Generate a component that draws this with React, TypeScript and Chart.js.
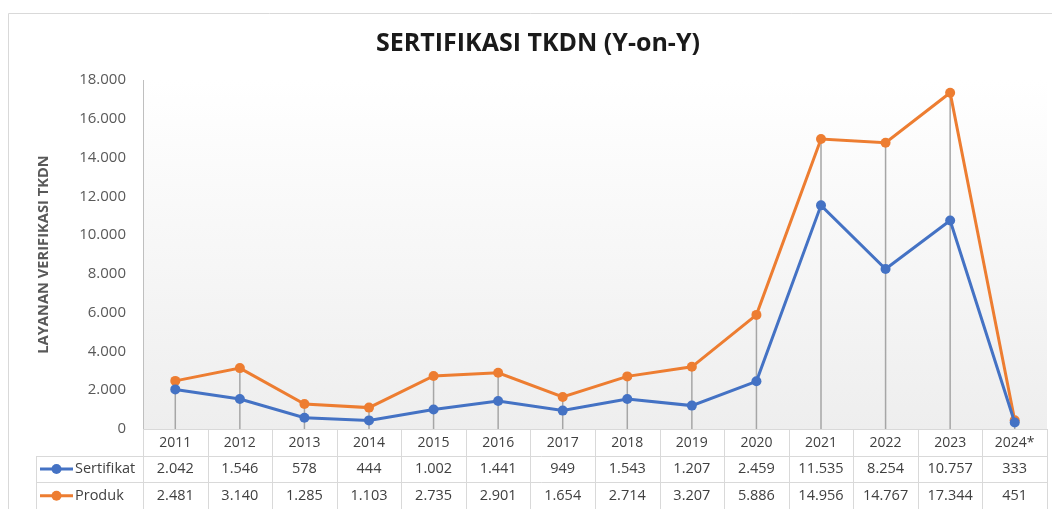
import { useEffect, useRef } from 'react';
import { Chart, registerables } from 'chart.js';

Chart.register(...registerables);

const years = ['2011', '2012', '2013', '2014', '2015', '2016', '2017', '2018', '2019', '2020', '2021', '2022', '2023', '2024*'];
const sertifikat = [2042, 1546, 578, 444, 1002, 1441, 949, 1543, 1207, 2459, 11535, 8254, 10757, 333];
const produk = [2481, 3140, 1285, 1103, 2735, 2901, 1654, 2714, 3207, 5886, 14956, 14767, 17344, 451];
const seriesNames = ['Sertifikat', 'Produk'];
const yMax = 18000;
const yStep = 2000;

const BLUE = '#4472C4';
const ORANGE = '#ED7D31';
const FONT = '"Open Sans", sans-serif';

const fmt = (n: number) => String(n).replace(/\B(?=(\d{3})+(?!\d))/g, '.');

const tablePlugin = {
  id: 'excelTable',
  beforeDraw(chart: any) {
    const { ctx, chartArea } = chart;
    ctx.save();
    ctx.strokeStyle = '#d9d9d9';
    ctx.lineWidth = 1;
    ctx.beginPath();
    ctx.moveTo(8.5, chart.height);
    ctx.lineTo(8.5, 13.5);
    ctx.lineTo(chart.width, 13.5);
    ctx.stroke();
    const g = ctx.createLinearGradient(0, chartArea.top, 0, chartArea.bottom);
    g.addColorStop(0, '#ffffff');
    g.addColorStop(1, '#eeeeee');
    ctx.fillStyle = g;
    ctx.fillRect(chartArea.left, chartArea.top, chartArea.right - chartArea.left, chartArea.bottom - chartArea.top);
    ctx.restore();
  },
  beforeDatasetsDraw(chart: any) {
    const { ctx, scales } = chart;
    const x = scales.x;
    const y = scales.y;
    ctx.save();
    ctx.strokeStyle = '#a6a6a6';
    ctx.lineWidth = 1.5;
    years.forEach((_, i) => {
      const px = x.getPixelForValue(i);
      const top = y.getPixelForValue(Math.max(sertifikat[i], produk[i]));
      ctx.beginPath();
      ctx.moveTo(px, top);
      ctx.lineTo(px, y.getPixelForValue(0));
      ctx.stroke();
    });
    ctx.restore();
  },
  afterDraw(chart: any) {
    const { ctx, scales, chartArea } = chart;
    const x = scales.x;
    const base = chartArea.bottom;
    const rowH = 26.7;
    const legendLeft = 36.5;
    const bottom = chart.height;
    ctx.save();
    ctx.strokeStyle = '#d9d9d9';
    ctx.lineWidth = 1;
    ctx.beginPath();
    ctx.moveTo(chartArea.left, base + 0.5);
    ctx.lineTo(chartArea.right, base + 0.5);
    for (let r = 1; r <= 2; r++) {
      const yy = Math.round(base + r * rowH) + 0.5;
      ctx.moveTo(legendLeft, yy);
      ctx.lineTo(chartArea.right, yy);
    }
    ctx.stroke();
    ctx.beginPath();
    const n = years.length;
    const step = (chartArea.right - chartArea.left) / n;
    for (let k = 0; k <= n; k++) {
      const xx = Math.round(chartArea.left + k * step) + 0.5;
      ctx.moveTo(xx, base);
      ctx.lineTo(xx, bottom);
    }
    ctx.moveTo(legendLeft, Math.round(base + rowH));
    ctx.lineTo(legendLeft, bottom);
    ctx.stroke();

    const rows = [sertifikat, produk];
    const colors = [BLUE, ORANGE];
    ctx.font = `14.5px ${FONT}`;
    ctx.textBaseline = 'middle';
    rows.forEach((vals, r) => {
      const cy = base + rowH * (r + 1.5);
      ctx.strokeStyle = colors[r];
      ctx.fillStyle = colors[r];
      ctx.lineWidth = 3;
      ctx.beginPath();
      ctx.moveTo(40, cy);
      ctx.lineTo(73, cy);
      ctx.stroke();
      ctx.beginPath();
      ctx.arc(56.5, cy, 5, 0, Math.PI * 2);
      ctx.fill();
      ctx.fillStyle = '#404040';
      ctx.textAlign = 'left';
      ctx.fillText(seriesNames[r], 75, cy);
      ctx.textAlign = 'center';
      vals.forEach((v, i) => {
        ctx.fillText(fmt(v), x.getPixelForValue(i), cy);
      });
    });
    ctx.restore();
  },
};

export default function App() {
  const ref = useRef<HTMLCanvasElement | null>(null);
  useEffect(() => {
    if (!ref.current) return;
    const chart = new Chart(ref.current, {
      type: 'line',
      data: {
        labels: years,
        datasets: [
          {
            label: seriesNames[0],
            data: sertifikat,
            borderColor: BLUE,
            backgroundColor: BLUE,
            borderWidth: 3,
            pointRadius: 5,
            pointHoverRadius: 5,
            pointBorderWidth: 0,
            tension: 0,
          },
          {
            label: seriesNames[1],
            data: produk,
            borderColor: ORANGE,
            backgroundColor: ORANGE,
            borderWidth: 3,
            pointRadius: 5,
            pointHoverRadius: 5,
            pointBorderWidth: 0,
            tension: 0,
          },
        ],
      },
      options: {
        animation: false,
        responsive: true,
        maintainAspectRatio: false,
        layout: { padding: { left: 28, right: 4, top: 13, bottom: 0 } },
        plugins: {
          legend: { display: false },
          tooltip: { enabled: false },
          title: {
            display: true,
            text: 'SERTIFIKASI TKDN (Y-on-Y)',
            color: '#1a1a1a',
            font: { family: FONT, size: 25, weight: 'bold', lineHeight: 1.2 },
            padding: { top: 16, bottom: 21 },
          },
        },
        scales: {
          x: {
            type: 'category',
            offset: true,
            grid: { display: false, drawTicks: false },
            border: { display: false },
            ticks: { color: '#404040', font: { family: FONT, size: 14 }, padding: 6, maxRotation: 0, autoSkip: false },
            afterFit: (s: any) => { s.height = 80; },
          },
          y: {
            min: 0,
            max: yMax,
            grid: { display: false, drawTicks: false },
            border: { display: true, color: '#bfbfbf', width: 1 },
            ticks: {
              stepSize: yStep,
              color: '#595959',
              font: { family: FONT, size: 15 },
              padding: 17,
              callback: (v: any) => fmt(Number(v)),
            },
            title: {
              display: true,
              text: 'LAYANAN VERIFIKASI TKDN',
              color: '#595959',
              font: { family: FONT, size: 14.7, weight: 'bold', lineHeight: 1.2 },
              padding: 7,
            },
            afterFit: (s: any) => { s.width = 115; },
          },
        },
      },
      plugins: [tablePlugin],
    });
    return () => chart.destroy();
  }, []);
  return (
    <div style={{ position: 'fixed', left: 0, top: 0, width: 1052, height: 509, background: '#fff' }}>
      <canvas ref={ref} />
    </div>
  );
}
